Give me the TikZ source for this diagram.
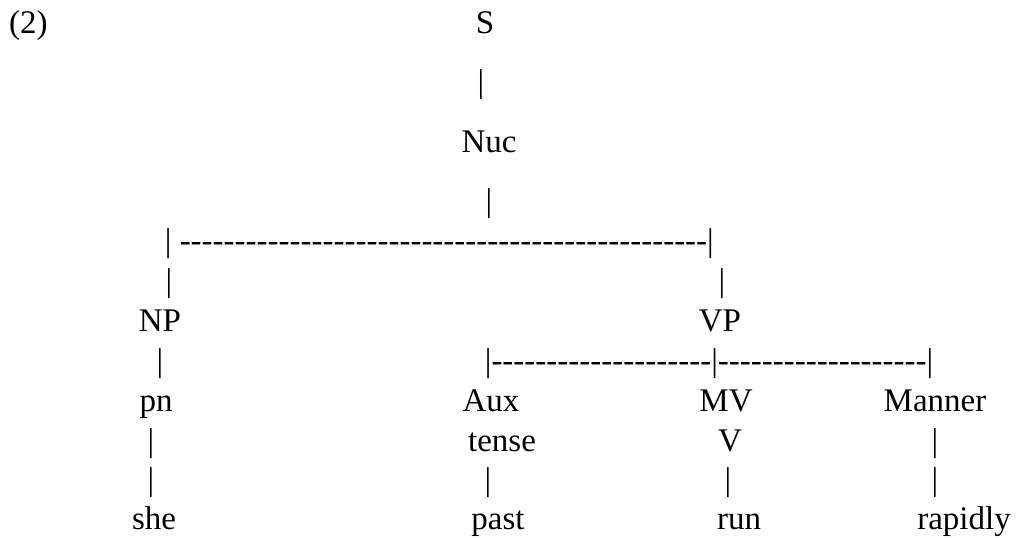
\documentclass[tikz,border=0pt]{standalone}
\usepackage{fontspec}
\setmainfont{Liberation Serif}[Ligatures=TeXOff]
\usepackage{tikz}

\newcommand\dashes[1]{\foreach\k in {1,...,#1}{-}}
\tikzset{lab/.style={anchor=base,inner sep=0pt,font=\fontsize{33}{40}\selectfont},
         row/.style={lab,anchor=base west}}

\begin{document}
\begin{tikzpicture}[x=1pt,y=-1pt]
\useasboundingbox (0,0) rectangle (1018,538);
\node[row] (ex) at (9,34) {(2)};
\node[lab] (s) at (485,34) {S};
\node[lab] (bs) at (481,92) {|};
\node[lab] (nuc) at (489,152) {Nuc};
\node[lab] (bnuc) at (489,211) {|};
\node[row] (nucline) at (164.7,251) {| \dashes{48}|};
\node[lab] (bnp) at (169,291) {|};
\node[lab] (bvp) at (722,291) {|};
\node[lab] (np) at (160,331) {NP};
\node[lab] (vp) at (720,331) {VP};
\node[lab] (bpn) at (160,371) {|};
\node[row] (vpline) at (484.7,371) {|\dashes{20}|\dashes{19}|};
\node[lab] (pn) at (156,411) {pn};
\node[lab] (aux) at (491,411) {Aux};
\node[lab] (mv) at (726,411) {MV};
\node[lab] (manner) at (935,411) {Manner};
\node[lab] (bpn2) at (151,451) {|};
\node[lab] (tense) at (502,451) {tense};
\node[lab] (v) at (730,451) {V};
\node[lab] (bman) at (935,451) {|};
\node[lab] (bshe) at (151,490) {|};
\node[lab] (bpast) at (488,490) {|};
\node[lab] (brun) at (728,490) {|};
\node[lab] (brap) at (935,490) {|};
\node[lab] (she) at (154,529) {she};
\node[lab] (past) at (498,529) {past};
\node[lab] (run) at (739,529) {run};
\node[lab] (rapidly) at (964,529) {rapidly};
\end{tikzpicture}
\end{document}
